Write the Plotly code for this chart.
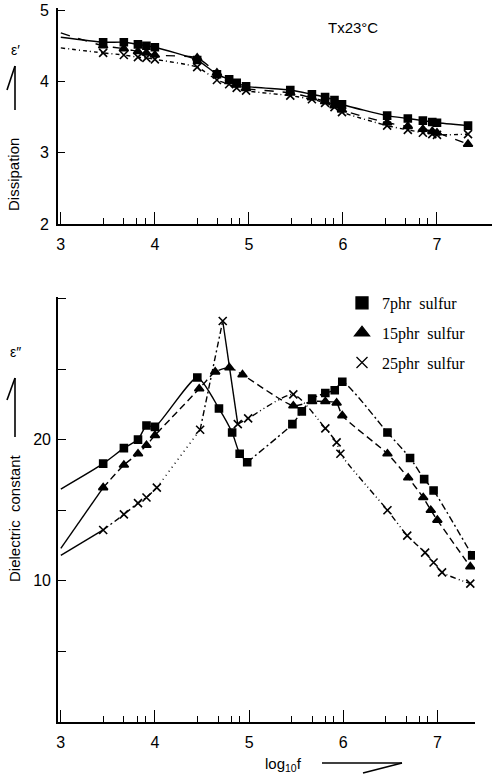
import plotly.graph_objects as go

# ---------------- data ----------------
series_names = ["7phr  sulfur", "15phr  sulfur", "25phr  sulfur"]

# top panel: epsilon' (first point of each list is the curve start, no marker)
top_x = [3.0, 3.45, 3.67, 3.82, 3.91, 4.0, 4.45, 4.66, 4.79, 4.87, 4.97,
         5.44, 5.67, 5.81, 5.91, 5.99, 6.47, 6.69, 6.85, 6.95, 7.0, 7.33]
top_7 = [4.62, 4.55, 4.55, 4.52, 4.50, 4.48, 4.30, 4.10, 4.03, 3.98, 3.93,
         3.88, 3.82, 3.78, 3.74, 3.68, 3.52, 3.48, 3.45, 3.43, 3.42, 3.38]
top_15 = [4.68, 4.50, 4.46, 4.42, 4.40, 4.37, 4.33, 4.12, 4.00, 3.95, 3.90,
          3.84, 3.77, 3.72, 3.66, 3.60, 3.42, 3.37, 3.33, 3.30, 3.28, 3.12]
top_25 = [4.47, 4.40, 4.37, 4.34, 4.33, 4.31, 4.20, 4.02, 3.96, 3.91, 3.87,
          3.80, 3.75, 3.70, 3.64, 3.57, 3.38, 3.32, 3.28, 3.26, 3.25, 3.26]

# bottom panel: epsilon''
b7_x = [3.0, 3.45, 3.67, 3.82, 3.91, 4.0, 4.45, 4.68, 4.82, 4.90, 4.98,
        5.46, 5.56, 5.67, 5.81, 5.91, 5.99, 6.47, 6.71, 6.86, 6.96, 7.37]
b7_y = [16.5, 18.3, 19.4, 20.0, 21.0, 20.9, 24.4, 22.2, 20.5, 19.0, 18.4,
        21.1, 22.0, 22.9, 23.3, 23.5, 24.1, 20.5, 18.7, 17.2, 16.4, 11.8]

b15_x = [3.0, 3.45, 3.67, 3.82, 3.91, 4.0, 4.47, 4.64, 4.79, 4.93, 5.47,
         5.67, 5.81, 5.93, 5.99, 6.47, 6.69, 6.85, 6.93, 7.0, 7.35]
b15_y = [12.3, 16.6, 18.2, 19.0, 19.6, 20.3, 23.6, 24.8, 25.1, 24.6, 22.4,
         22.7, 22.7, 22.6, 21.7, 19.0, 17.3, 15.9, 15.0, 14.3, 11.0]

b25_x = [3.0, 3.45, 3.67, 3.82, 3.91, 4.02, 4.48, 4.72, 4.88, 4.99, 5.47,
         5.81, 5.93, 5.97, 6.47, 6.68, 6.87, 6.96, 7.05, 7.35]
b25_y = [11.8, 13.6, 14.7, 15.5, 15.9, 16.6, 20.7, 28.4, 21.1, 21.5, 23.2,
         20.8, 19.8, 19.0, 15.0, 13.2, 12.0, 11.3, 10.6, 9.8]

x_ticks = [3, 4, 5, 6, 7]
minor_ticks = [3.45, 3.67, 3.81, 3.9, 4.45, 4.67, 4.81, 4.9, 5.45, 5.67, 5.81,
               5.9, 6.45, 6.67, 6.81, 6.9]
top_y_ticks = [2, 3, 4, 5]
bot_y_ticks = [10, 20]
bot_y_minor = [5, 15, 25, 30]

# ---------------- styling ----------------
symbols = ["square", "triangle-up", "x-thin"]
msize = [7, 8, 8]
SANS = "Liberation Sans, Arial, sans-serif"
SERIF = "Liberation Serif, Times New Roman, serif"
W, H = 498, 776

fig = go.Figure()


def add_line(x, y, dash, xa, ya):
    fig.add_trace(go.Scatter(x=x, y=y, mode="lines", xaxis=xa, yaxis=ya,
                             line=dict(color="black", width=1.4, dash=dash,
                                       shape="spline", smoothing=0.6),
                             showlegend=False, hoverinfo="skip"))


def add_markers(x, y, k, xa, ya):
    fig.add_trace(go.Scatter(x=x, y=y, mode="markers", xaxis=xa, yaxis=ya,
                             marker=dict(symbol=symbols[k], size=msize[k], color="black",
                                         line=dict(color="black", width=1.6)),
                             showlegend=False))


# top panel
for k, (vals, dash) in enumerate([(top_7, "solid"), (top_15, "dash"), (top_25, "4px,3px,1px,3px")]):
    add_line(top_x, vals, dash, "x", "y")
    add_markers(top_x[1:], vals[1:], k, "x", "y")

# bottom panel segments
segs7 = [(0, 10, "solid"), (10, len(b7_x) - 1, "7px,3px,2px,3px")]
segs15 = [(0, 1, "solid"), (1, len(b15_x) - 1, "7px,4px")]
segs25 = [(0, 1, "solid"), (1, 5, "6px,3px,2px,3px"), (5, 6, "1px,4px"),
          (6, 7, "6px,3px,2px,3px"), (7, 8, "solid"), (8, len(b25_x) - 1, "6px,3px,1px,3px,1px,3px")]
for k, (xs, ys, segs) in enumerate([(b7_x, b7_y, segs7), (b15_x, b15_y, segs15), (b25_x, b25_y, segs25)]):
    for a, b, dash in segs:
        add_line(xs[a:b + 1], ys[a:b + 1], dash, "x2", "y2")
    add_markers(xs[1:], ys[1:], k, "x2", "y2")

# legend entries
for k, name in enumerate(series_names):
    fig.add_trace(go.Scatter(x=[None], y=[None], mode="markers", xaxis="x2", yaxis="y2",
                             name=name, legendgroup=str(k),
                             marker=dict(symbol=symbols[k], size=[12, 13, 11][k], color="black",
                                         line=dict(color="black", width=1.3))))

axis_common = dict(showline=True, linecolor="black", linewidth=1.6, showgrid=False,
                   zeroline=False, ticks="inside", tickcolor="black", automargin=False,
                   tickfont=dict(family=SANS, size=16, color="black"))

fig.update_layout(
    width=W, height=H, autosize=False,
    margin=dict(l=0, r=0, t=0, b=0, pad=0, autoexpand=False),
    paper_bgcolor="white", plot_bgcolor="white",
    xaxis=dict(domain=[58 / W, 492 / W], range=[2.97, 7.585], anchor="y",
               tickvals=x_ticks, ticklen=12, tickwidth=1.3, ticklabelstandoff=5,
               minor=dict(tickvals=minor_ticks, ticks="inside", ticklen=6,
                          tickcolor="black", tickwidth=1.2),
               **axis_common),
    yaxis=dict(domain=[1 - 224 / H, 1 - 8 / H], range=[2.0, 5.03], anchor="x",
               tickvals=top_y_ticks, ticklen=7, tickwidth=1.3, ticklabelstandoff=4,
               **axis_common),
    xaxis2=dict(domain=[58 / W, 475 / W], range=[2.97, 7.40], anchor="y2",
                tickvals=x_ticks, ticklen=12, tickwidth=1.3, ticklabelstandoff=5,
                minor=dict(tickvals=minor_ticks, ticks="inside", ticklen=6,
                           tickcolor="black", tickwidth=1.2),
                **axis_common),
    yaxis2=dict(domain=[1 - 722 / H, 1 - 297 / H], range=[0, 30.1], anchor="x2",
                tickvals=bot_y_ticks, ticklen=8, tickwidth=1.3, ticklabelstandoff=2,
                minor=dict(tickvals=bot_y_minor, ticks="inside", ticklen=8,
                           tickcolor="black", tickwidth=1.3),
                **axis_common),
    showlegend=True,
    legend=dict(x=342 / W, y=1 - 286 / H, xanchor="left", yanchor="top",
                bgcolor="rgba(0,0,0,0)", tracegroupgap=6,
                font=dict(family=SERIF, size=16, color="black"), itemwidth=30),
)


def P(px, py):
    return px / W, 1 - py / H


ann = []


def text(px, py, s, size=15, angle=0, family=SANS):
    x, y = P(px, py)
    ann.append(dict(x=x, y=y, xref="paper", yref="paper", text=s, textangle=angle,
                    xanchor="center", yanchor="middle", showarrow=False,
                    font=dict(family=family, size=size, color="black")))


text(353, 28, "Tx23°C", 15)
text(15, 50, "ε′", 14)
text(14, 175, "Dissipation", 15, -90)
text(15, 352, "ε″", 14)
text(14, 518, "Dielectric  constant", 15, -90)
text(283, 764, "log<sub>10</sub>f", 15)
fig.update_layout(annotations=ann)

# hand-drawn style arrows (paper-space decorations)
shapes = []


def seg(p0, p1):
    x0, y0 = P(*p0)
    x1, y1 = P(*p1)
    shapes.append(dict(type="line", xref="paper", yref="paper", x0=x0, y0=y0, x1=x1, y1=y1,
                       line=dict(color="black", width=1.6)))


seg((15, 110), (15, 66))
seg((15, 66), (7, 90))
seg((15, 437), (15, 378))
seg((15, 378), (7, 400))
seg((322, 763), (402, 763))
seg((402, 763), (363, 773))
fig.update_layout(shapes=shapes)

fig.write_html("out.html", config={"displayModeBar": False})
